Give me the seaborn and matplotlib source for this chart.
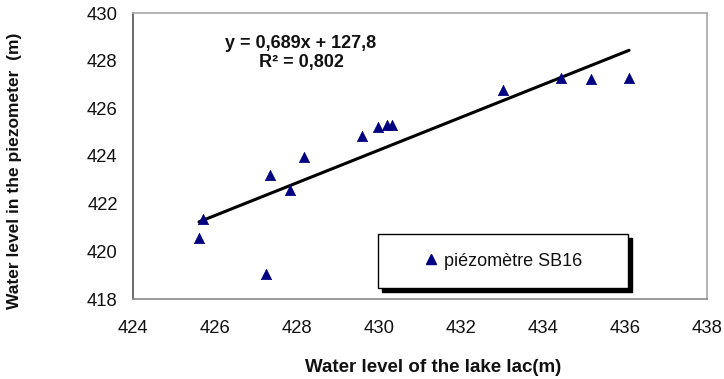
import matplotlib
matplotlib.use("Agg")
import matplotlib.pyplot as plt
import seaborn as sns
import pandas as pd
from matplotlib.patches import Rectangle
from matplotlib.lines import Line2D

lake_level = [425.61, 425.71, 427.25, 427.34, 427.83, 428.18, 429.59, 429.97,
              430.19, 430.32, 433.02, 434.45, 435.17, 436.10]
piezo_level = [420.58, 421.35, 419.05, 423.20, 422.57, 423.96, 424.82, 425.20,
               425.32, 425.32, 426.79, 427.29, 427.25, 427.29]
series_name = "piézomètre SB16"
equation_text = "y = 0,689x + 127,8\nR² = 0,802"
x_ticks = [424, 426, 428, 430, 432, 434, 436, 438]
y_ticks = [418, 420, 422, 424, 426, 428, 430]

df = pd.DataFrame({"lake": lake_level, "piezo": piezo_level})

sns.set_style("white")
plt.rcParams["font.family"] = ["Liberation Sans", "DejaVu Sans"]

fig = plt.figure(figsize=(7.24, 3.79), dpi=100)
ax = fig.add_axes([133/724, 1-299/379, (707-133)/724, (299-13)/379])

sns.regplot(data=df, x="lake", y="piezo", ax=ax, ci=None, marker="^",
            scatter_kws=dict(s=55, color="#000080", edgecolors="#000080", linewidths=0.5,
                             alpha=1, zorder=3),
            line_kws=dict(color="black", lw=2.2, zorder=2))

ax.set_xlim(424, 438)
ax.set_ylim(418, 430)
ax.set_xticks(x_ticks)
ax.set_yticks(y_ticks)
ax.tick_params(axis="both", direction="out", length=5, width=1, labelsize=13.3,
               colors="#606060", labelcolor="#111111")
ax.tick_params(axis="x", pad=10)
ax.tick_params(axis="y", pad=6)
for s in ["top", "right"]:
    ax.spines[s].set_color("#a8a8a8")
    ax.spines[s].set_linewidth(1.2)
ax.spines["bottom"].set_color("#8a8a8a")
ax.spines["bottom"].set_linewidth(1.2)
ax.spines["left"].set_color("#505050")
ax.spines["left"].set_linewidth(1.2)

ax.set_xlabel("Water level of the lake lac(m)", fontsize=13.5, fontweight="bold", color="#111111")
ax.set_ylabel("Water level in the piezometer  (m)", fontsize=12.5, fontweight="bold", color="#111111")
ax.xaxis.set_label_coords((433-133)/574, (299-359)/286)
ax.yaxis.set_label_coords((22-133)/574, (299-171)/286)

ax.text((301-133)/574, (299-53)/286, equation_text, transform=ax.transAxes,
        ha="center", va="center", fontsize=13, fontweight="bold", linespacing=1.1,
        color="#111111")

# legend box with shadow
bx0, bx1 = (378-133)/574, (628-133)/574
by0, by1 = (299-288)/286, (299-234)/286
dx, dy = 4/574, 4/286
ax.add_patch(Rectangle((bx0+dx, by0-dy), bx1-bx0, by1-by0, transform=ax.transAxes,
                       facecolor="black", edgecolor="black", zorder=4, clip_on=False))
ax.add_patch(Rectangle((bx0, by0), bx1-bx0, by1-by0, transform=ax.transAxes,
                       facecolor="white", edgecolor="black", lw=1, zorder=5, clip_on=False))
handle = Line2D([], [], marker="^", ls="none", color="#000080", markersize=7)
leg = ax.legend([handle], [series_name], loc="center",
                bbox_to_anchor=((bx0+bx1)/2, (by0+by1)/2), bbox_transform=ax.transAxes,
                frameon=False, fontsize=13, handlelength=0.8, handletextpad=0.3)
for t in leg.get_texts():
    t.set_color("#111111")
leg.set_zorder(6)

fig.savefig("out.png", dpi=100)
